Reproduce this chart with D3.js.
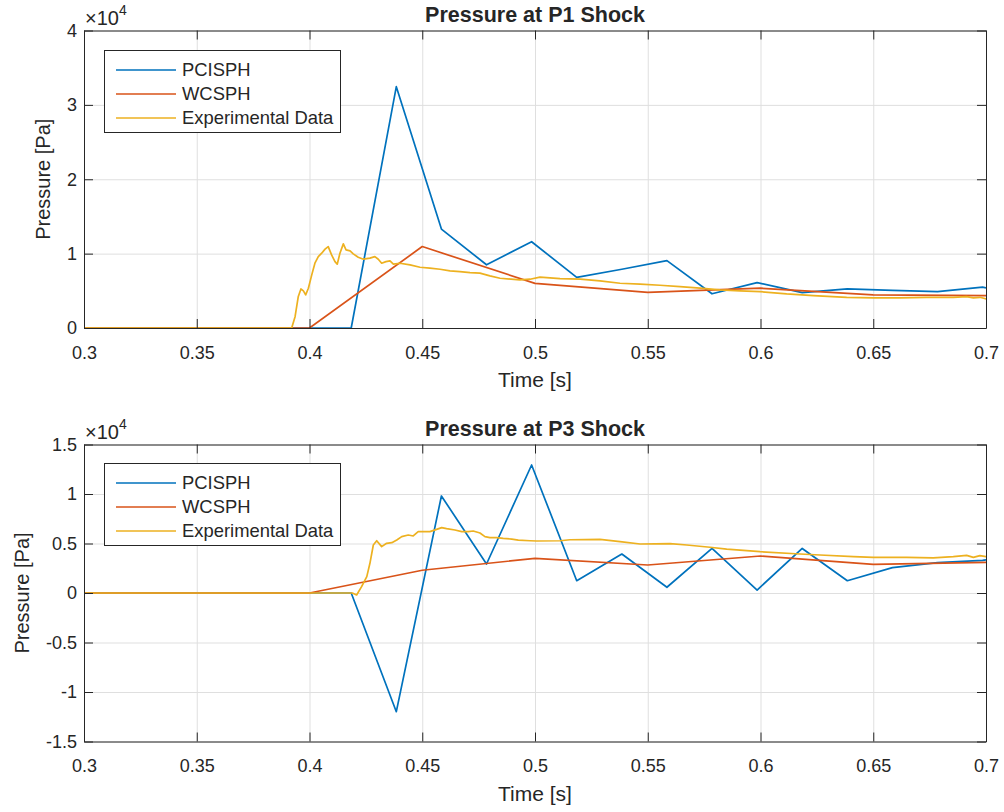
<!DOCTYPE html>
<html><head><meta charset="utf-8">
<script src="https://cdn.jsdelivr.net/npm/d3@7"></script>
<style>
body{margin:0;background:#fff;}
text{font-family:"Liberation Sans",Arial,Helvetica,sans-serif;fill:#262626;}
</style>
</head><body><svg id="c" width="1004" height="812"></svg>
<script>
// ---------- DATA (pressure values in units of 10^4 Pa) ----------
const xTicks = [0.3, 0.35, 0.4, 0.45, 0.5, 0.55, 0.6, 0.65, 0.7];
const p1YTicks = [0, 1, 2, 3, 4];
const p3YTicks = [-1.5, -1, -0.5, 0, 0.5, 1, 1.5];
const seriesNames = ["PCISPH", "WCSPH", "Experimental Data"];
const seriesColors = ["#0072BD", "#D95319", "#EDB120"];

// P1 shock
const p1PciTime = [0.3, 0.4185, 0.4385, 0.4585, 0.4785, 0.4985, 0.5185, 0.5385, 0.5585, 0.5785, 0.5985, 0.6185, 0.6385, 0.6585, 0.6785, 0.6985, 0.7];
const p1PciValue = [0, 0, 3.245, 1.33, 0.85, 1.16, 0.68, 0.79, 0.906, 0.46, 0.61, 0.475, 0.525, 0.505, 0.49, 0.55, 0.54];
const p1WcTime = [0.3, 0.4, 0.45, 0.5, 0.55, 0.6, 0.65, 0.7];
const p1WcValue = [0, 0, 1.095, 0.60, 0.48, 0.535, 0.445, 0.435];
const p1ExpTime = [0.3, 0.3921, 0.3936, 0.3950, 0.3962, 0.3973, 0.3983, 0.3995, 0.4010, 0.4024, 0.4039, 0.4054, 0.4069, 0.4083, 0.4098, 0.4113, 0.4123, 0.4135, 0.4150, 0.4162, 0.4180, 0.4194, 0.4216, 0.4239, 0.4268, 0.4290, 0.4305, 0.4320, 0.4339, 0.4357, 0.4372, 0.4401, 0.4446, 0.4490, 0.4534, 0.4579, 0.4623, 0.4667, 0.4712, 0.4756, 0.4800, 0.4845, 0.4933, 0.4978, 0.5022, 0.5111, 0.5200, 0.5288, 0.5377, 0.5466, 0.5554, 0.5643, 0.5732, 0.5820, 0.5909, 0.5998, 0.6116, 0.6234, 0.6382, 0.6500, 0.6619, 0.6737, 0.6855, 0.6914, 0.6944, 0.6973, 0.7003];
const p1ExpValue = [0, 0, 0.152, 0.42, 0.525, 0.50, 0.445, 0.535, 0.714, 0.871, 0.96, 1.006, 1.06, 1.095, 0.983, 0.893, 0.858, 1.006, 1.131, 1.05, 1.037, 0.997, 0.952, 0.925, 0.939, 0.96, 0.925, 0.871, 0.893, 0.902, 0.858, 0.871, 0.848, 0.817, 0.804, 0.79, 0.768, 0.758, 0.745, 0.737, 0.70, 0.669, 0.646, 0.656, 0.683, 0.664, 0.656, 0.633, 0.602, 0.589, 0.575, 0.556, 0.535, 0.512, 0.498, 0.489, 0.458, 0.435, 0.413, 0.404, 0.404, 0.413, 0.413, 0.422, 0.404, 0.413, 0.39];

// P3 shock
const p3PciTime = [0.3, 0.4185, 0.4385, 0.4585, 0.4785, 0.4985, 0.5185, 0.5385, 0.5585, 0.5785, 0.5985, 0.6185, 0.6385, 0.6585, 0.6785, 0.6985, 0.7];
const p3PciValue = [0, 0, -1.199, 0.98, 0.293, 1.293, 0.124, 0.394, 0.058, 0.45, 0.03, 0.45, 0.124, 0.256, 0.306, 0.33, 0.335];
const p3WcTime = [0.3, 0.4, 0.45, 0.5, 0.55, 0.6, 0.65, 0.7];
const p3WcValue = [0, 0, 0.23, 0.35, 0.283, 0.374, 0.29, 0.31];
const p3ExpTime = [0.3, 0.419, 0.4209, 0.4231, 0.4254, 0.4268, 0.4283, 0.4298, 0.4320, 0.4342, 0.4365, 0.4387, 0.4409, 0.4438, 0.4460, 0.4482, 0.4512, 0.4534, 0.4564, 0.4586, 0.4608, 0.4645, 0.4675, 0.4704, 0.4726, 0.4756, 0.4778, 0.4800, 0.4830, 0.4859, 0.4897, 0.4926, 0.4978, 0.5008, 0.5111, 0.5155, 0.5288, 0.5377, 0.5466, 0.5599, 0.5673, 0.5776, 0.5850, 0.5909, 0.5998, 0.6175, 0.6264, 0.6412, 0.6500, 0.6648, 0.6766, 0.6855, 0.6914, 0.6944, 0.6973, 0.7003];
const p3ExpValue = [0, 0, -0.02, 0.064, 0.165, 0.30, 0.485, 0.528, 0.468, 0.502, 0.508, 0.535, 0.569, 0.586, 0.576, 0.62, 0.62, 0.62, 0.643, 0.66, 0.65, 0.636, 0.62, 0.62, 0.626, 0.606, 0.569, 0.559, 0.559, 0.552, 0.545, 0.535, 0.528, 0.525, 0.528, 0.538, 0.542, 0.518, 0.495, 0.498, 0.485, 0.462, 0.444, 0.434, 0.417, 0.394, 0.384, 0.367, 0.36, 0.36, 0.354, 0.367, 0.38, 0.36, 0.377, 0.367];

// ---------- DRAWING ----------
const svg = d3.select("#c");
const AX = "#262626", GRID = "#dfdfdf";
const left = 84, right = 986;
const fmt = d => String(+d.toFixed(2)).replace("\u2212", "-");

const zip = (t, v) => t.map((d, i) => ({t: d, v: v[i]}));

const panels = [
  {title: "Pressure at P1 Shock", top: 30.5, bottom: 328, yDomain: [0, 4], yTicks: p1YTicks, ylabX: 50, legendTop: 50,
   series: [zip(p1PciTime, p1PciValue), zip(p1WcTime, p1WcValue), zip(p1ExpTime, p1ExpValue)]},
  {title: "Pressure at P3 Shock", top: 444.5, bottom: 741.5, yDomain: [-1.5, 1.5], yTicks: p3YTicks, ylabX: 29, legendTop: 463,
   series: [zip(p3PciTime, p3PciValue), zip(p3WcTime, p3WcValue), zip(p3ExpTime, p3ExpValue)]}
];

panels.forEach((p, pi) => {
  const x = d3.scaleLinear().domain([0.3, 0.7]).range([left, right]);
  const y = d3.scaleLinear().domain(p.yDomain).range([p.bottom, p.top]);
  const w = right - left, h = p.bottom - p.top;
  const g = svg.append("g");

  // grid
  g.append("g").attr("transform", `translate(0,${p.bottom})`)
    .call(d3.axisBottom(x).tickValues(xTicks).tickSize(-h).tickFormat(""))
    .call(s => { s.select(".domain").remove(); s.selectAll("line").attr("stroke", GRID).attr("stroke-width", 1); });
  g.append("g").attr("transform", `translate(${left},0)`)
    .call(d3.axisLeft(y).tickValues(p.yTicks).tickSize(-w).tickFormat(""))
    .call(s => { s.select(".domain").remove(); s.selectAll("line").attr("stroke", GRID).attr("stroke-width", 1); });

  // clip
  const cid = "clip" + pi;
  svg.append("clipPath").attr("id", cid).append("rect")
    .attr("x", left).attr("y", p.top).attr("width", w).attr("height", h);

  const line = d3.line().x(d => x(d.t)).y(d => y(d.v));
  const lg = g.append("g").attr("clip-path", `url(#${cid})`);
  p.series.forEach((s, i) => {
    lg.append("path").datum(s).attr("d", line).attr("fill", "none")
      .attr("stroke", seriesColors[i]).attr("stroke-width", 1.7).attr("stroke-linejoin", "round");
  });

  // axes
  const styleAxis = s => {
    s.select(".domain").attr("stroke", AX);
    s.selectAll(".tick line").attr("stroke", AX);
    s.selectAll("text").attr("fill", AX).style("font-size", "18px")
      .style("font-family", '"Liberation Sans",Arial,sans-serif');
  };
  g.append("g").attr("transform", `translate(0,${p.bottom})`)
    .call(d3.axisBottom(x).tickValues(xTicks).tickSize(-9).tickSizeOuter(0).tickPadding(18).tickFormat(fmt))
    .call(styleAxis);
  g.append("g").attr("transform", `translate(0,${p.top})`)
    .call(d3.axisTop(x).tickValues(xTicks).tickSize(-9).tickSizeOuter(0).tickFormat(""))
    .call(styleAxis);
  g.append("g").attr("transform", `translate(${left},0)`)
    .call(d3.axisLeft(y).tickValues(p.yTicks).tickSize(-9).tickSizeOuter(0).tickPadding(7).tickFormat(fmt))
    .call(styleAxis);
  g.append("g").attr("transform", `translate(${right},0)`)
    .call(d3.axisRight(y).tickValues(p.yTicks).tickSize(-9).tickSizeOuter(0).tickFormat(""))
    .call(styleAxis);

  // title
  g.append("text").attr("x", (left + right) / 2).attr("y", p.top - 9)
    .attr("text-anchor", "middle").style("font-size", "21.5px").style("font-weight", "bold").text(p.title);
  // exponent
  const ex = g.append("text").attr("x", left + 1).attr("y", p.top - 6).style("font-size", "20px");
  ex.append("tspan").text("\u00d710");
  ex.append("tspan").attr("dy", -10).style("font-size", "14px").text("4");
  // x label
  g.append("text").attr("x", (left + right) / 2).attr("y", p.bottom + 59)
    .attr("text-anchor", "middle").style("font-size", "21px").text("Time [s]");
  // y label
  g.append("text").attr("transform", `translate(${p.ylabX},${(p.top + p.bottom) / 2}) rotate(-90)`)
    .attr("text-anchor", "middle").style("font-size", "20px").text("Pressure [Pa]");

  // legend
  const lgd = g.append("g");
  lgd.append("rect").attr("x", 104.5).attr("y", p.legendTop + 0.5).attr("width", 236).attr("height", 82)
    .attr("fill", "#fff").attr("stroke", AX).attr("stroke-width", 1);
  seriesNames.forEach((n, i) => {
    const yy = p.legendTop + 20 + i * 24;
    lgd.append("line").attr("x1", 116).attr("x2", 176).attr("y1", yy).attr("y2", yy)
      .attr("stroke", seriesColors[i]).attr("stroke-width", 1.7);
    lgd.append("text").attr("x", 182).attr("y", yy).attr("dy", "0.35em").style("font-size", "18.4px").text(n);
  });
});
</script>
</body></html>
